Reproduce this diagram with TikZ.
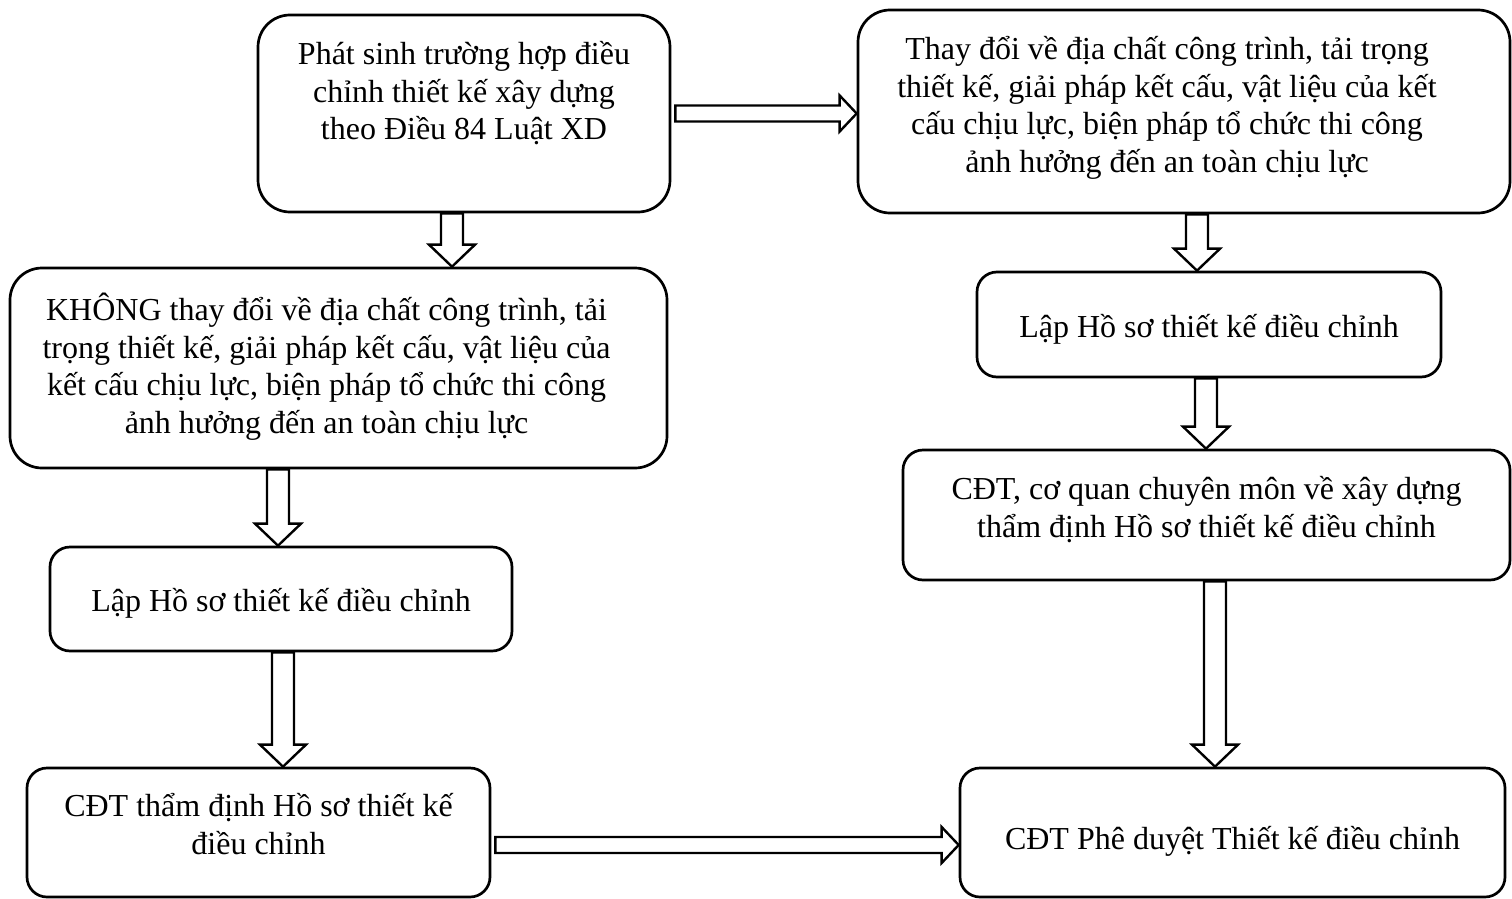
\documentclass[tikz,border=0pt]{standalone}
\usepackage{fontspec}
\setmainfont{Liberation Serif}
\usetikzlibrary{calc}

% hollow block arrows between two boxes
\newcommand{\downblk}[3]{%
  \draw[blk] let \p1=(#2.south), \p2=(#3.north) in
    (#1-11,\y1) -- (#1-11,\y2+22pt) -- (#1-23,\y2+22pt) -- (#1,\y2)
    -- (#1+23,\y2+22pt) -- (#1+11,\y2+22pt) -- (#1+11,\y1) -- cycle;}
\newcommand{\rightblk}[3]{%
  \draw[blk] let \p1=(#2.east), \p2=(#3.west) in
    (\x1+4pt,#1-8) -- (\x2-17pt,#1-8) -- (\x2-17pt,#1-18) -- (\x2,#1)
    -- (\x2-17pt,#1+18) -- (\x2-17pt,#1+8) -- (\x1+4pt,#1+8) -- cycle;}

\begin{document}
\begin{tikzpicture}[x=1pt,y=-1pt,
	box/.style={draw,line width=2.7pt,rounded corners=32pt},
	small box/.style={box,rounded corners=20pt},
	txt/.style={align=center,inner sep=0pt,font=\fontsize{32}{37.5}\selectfont},
	blk/.style={draw,line width=2.4pt,fill=white,line join=miter}]
	
	\useasboundingbox (0,0) rectangle (1512,899);
	
	\node[box,minimum width=412,minimum height=197,
		label={[txt,yshift=20pt]center:{Phát sinh trường hợp điều\\chỉnh thiết kế xây dựng\\theo Điều 84 Luật XD}}]
		(phatsinh) at (464,113.5) {};
	\node[box,minimum width=652,minimum height=203,
		label={[txt,xshift=-17pt,yshift=3.5pt]center:{Thay đổi về địa chất công trình, tải trọng\\thiết kế, giải pháp kết cấu, vật liệu của kết\\cấu chịu lực, biện pháp tổ chức thi công\\ảnh hưởng đến an toàn chịu lực}}]
		(thaydoi) at (1184,111.5) {};
	\node[box,minimum width=657,minimum height=200,
		label={[txt,xshift=-12pt,yshift=1.5pt]center:{KHÔNG thay đổi về địa chất công trình, tải\\trọng thiết kế, giải pháp kết cấu, vật liệu của\\kết cấu chịu lực, biện pháp tổ chức thi công\\ảnh hưởng đến an toàn chịu lực}}]
		(khong) at (338.5,368) {};
	\node[small box,minimum width=464,minimum height=105,
		label={[txt,yshift=-5pt]center:Lập Hồ sơ thiết kế điều chỉnh}]
		(lapR) at (1209,324.5) {};
	\node[small box,minimum width=607,minimum height=130,
		label={[txt,yshift=5.5pt]center:{CĐT, cơ quan chuyên môn về xây dựng\\thẩm định Hồ sơ thiết kế điều chỉnh}}]
		(thamdinhR) at (1206.5,515) {};
	\node[small box,minimum width=462,minimum height=104,
		label={[txt,yshift=-4pt]center:Lập Hồ sơ thiết kế điều chỉnh}]
		(lapL) at (281,599) {};
	\node[small box,minimum width=463,minimum height=129,
		label={[txt,yshift=8.5pt]center:{CĐT thẩm định Hồ sơ thiết kế\\điều chỉnh}}]
		(thamdinhL) at (258.5,832.5) {};
	\node[small box,minimum width=545,minimum height=129,
		label={[txt,yshift=-9pt]center:CĐT Phê duyệt Thiết kế điều chỉnh}]
		(pheduyet) at (1232.5,832.5) {};
	
	\rightblk{113.5}{phatsinh}{thaydoi}
	\downblk{452}{phatsinh}{khong}
	\downblk{1197}{thaydoi}{lapR}
	\downblk{1206}{lapR}{thamdinhR}
	\downblk{278}{khong}{lapL}
	\downblk{283}{lapL}{thamdinhL}
	\downblk{1215}{thamdinhR}{pheduyet}
	\rightblk{845}{thamdinhL}{pheduyet}
\end{tikzpicture}
\end{document}
